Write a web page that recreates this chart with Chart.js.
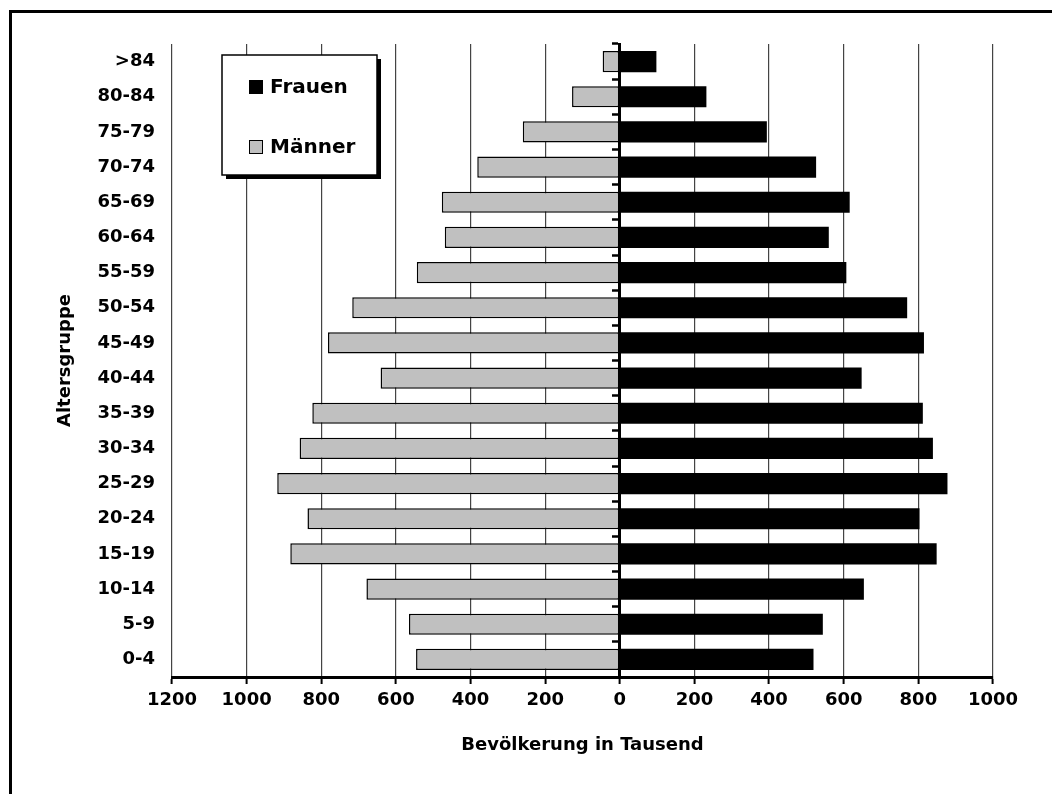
<!DOCTYPE html>
<html lang="de">
<head>
<meta charset="utf-8">
<title>Bevölkerungspyramide</title>
<script src="https://cdn.jsdelivr.net/npm/chart.js@4.4.1/dist/chart.umd.min.js"></script>
<style>
  html, body { margin: 0; padding: 0; background: #fff; overflow: hidden; }
  #frame {
    position: absolute; left: 9px; top: 10px; width: 1100px; height: 900px;
    border-left: 3px solid #000; border-top: 3px solid #000; box-sizing: border-box;
  }
  #chart { position: absolute; left: 0; top: 0; }
</style>
</head>
<body>
<div id="frame"></div>
<canvas id="chart" width="1052" height="794"></canvas>
<script>
// Altersgruppen von oben nach unten
const ageGroups = ['>84', '80-84', '75-79', '70-74', '65-69', '60-64', '55-59', '50-54', '45-49',
                   '40-44', '35-39', '30-34', '25-29', '20-24', '15-19', '10-14', '5-9', '0-4'];

// Bevölkerung in Tausend
const femaleValues = [98, 232, 394, 526, 616, 560, 607, 770, 815, 648, 812, 839, 878, 803, 849, 654, 544, 519];
const maleValues   = [46, 128, 260, 382, 477, 469, 544, 717, 782, 641, 824, 858, 918, 837, 883, 679, 565, 546];

// Achsenbeschriftung (Männer links, daher negative Positionen)
const xTickValues = [-1200, -1000, -800, -600, -400, -200, 0, 200, 400, 600, 800, 1000];

const FONT = { family: 'DejaVu Sans', weight: 'bold', size: 18 };

// Legende mit Schatten im Diagramm
const boxLegend = {
  id: 'boxLegend',
  afterDraw(chart) {
    const ctx = chart.ctx;
    const x = 222, y = 55, w = 155, h = 120;
    ctx.save();
    ctx.fillStyle = '#000';
    ctx.fillRect(x + 4, y + 4, w, h);
    ctx.fillStyle = '#fff';
    ctx.fillRect(x, y, w, h);
    ctx.strokeStyle = '#000';
    ctx.lineWidth = 1.5;
    ctx.strokeRect(x, y, w, h);
    const rows = [87, 147];
    chart.data.datasets.forEach((ds, i) => {
      const cy = rows[i];
      ctx.fillStyle = ds.backgroundColor;
      ctx.fillRect(249, cy - 7, 14, 14);
      ctx.lineWidth = 1;
      ctx.strokeStyle = '#000';
      ctx.strokeRect(249.5, cy - 6.5, 13, 13);
      ctx.fillStyle = '#000';
      ctx.font = 'bold 20px "DejaVu Sans"';
      ctx.textBaseline = 'middle';
      ctx.textAlign = 'left';
      ctx.fillText(ds.label, 270, cy + 1);
    });
    ctx.restore();
  }
};

new Chart(document.getElementById('chart'), {
  type: 'bar',
  data: {
    labels: ageGroups,
    datasets: [
      {
        label: 'Frauen',
        data: femaleValues,
        backgroundColor: '#000000',
        borderWidth: 0,
        barPercentage: 0.6,
        categoryPercentage: 1.0
      },
      {
        label: 'Männer',
        data: maleValues.map(v => -v),
        backgroundColor: '#c0c0c0',
        borderColor: '#000000',
        borderWidth: 1.5,
        borderSkipped: false,
        barPercentage: 0.6,
        categoryPercentage: 1.0
      }
    ]
  },
  options: {
    indexAxis: 'y',
    responsive: false,
    animation: false,
    layout: { padding: { top: 44, right: 59, left: 0, bottom: 0 } },
    plugins: {
      legend: { display: false },
      tooltip: { enabled: false }
    },
    scales: {
      x: {
        type: 'linear',
        stacked: true,
        min: -1200,
        max: 1000,
        afterBuildTicks(scale) { scale.ticks = xTickValues.map(v => ({ value: v })); },
        afterFit(scale) { scale.height = 117; },
        ticks: {
          color: '#000',
          font: FONT,
          padding: 6,
          maxRotation: 0,
          autoSkip: false,
          callback: v => String(Math.abs(v))
        },
        grid: {
          color: '#444',
          lineWidth: 1.2,
          tickColor: '#000',
          tickLength: 7,
          tickWidth: 2
        },
        border: { color: '#000', width: 3 },
        title: {
          display: true,
          text: 'Bevölkerung in Tausend',
          color: '#000',
          font: FONT,
          padding: { top: 0, bottom: 38 }
        }
      },
      y: {
        type: 'category',
        position: 'left',
        stacked: true,
        offset: true,
        afterFit(scale) { scale.width = 172; },
        grid: { display: false },
        border: { display: false },
        ticks: { color: '#000', font: FONT, padding: 9, autoSkip: false },
        title: {
          display: true,
          text: 'Altersgruppe',
          color: '#000',
          font: FONT,
          padding: { top: 55, bottom: 0 }
        }
      },
      yCenter: {
        axis: 'y',
        type: 'category',
        labels: ageGroups,
        position: { x: 0 },
        offset: true,
        z: 1,
        ticks: { display: false },
        grid: {
          offset: true,
          drawOnChartArea: false,
          color: '#000',
          tickLength: 6,
          tickWidth: 2.5
        },
        border: { color: '#000', width: 3 }
      }
    }
  },
  plugins: [boxLegend]
});
</script>
</body>
</html>
